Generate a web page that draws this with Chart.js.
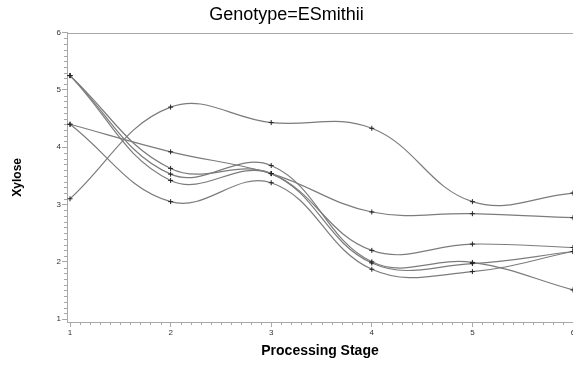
<!DOCTYPE html>
<html lang="en">
<head>
  <meta charset="UTF-8">
  <title>Genotype=ESmithii</title>
  <script src="https://cdn.jsdelivr.net/npm/chart.js"></script>
  <style>
    body {
      margin: 0;
      background: #fff;
    }
    canvas {
      display: block;
    }
  </style>
</head>
<body>
  <canvas id="xyloseChart" width="573" height="365"></canvas>

  <script>
    // processing stages on the x axis
    const stages = [1, 2, 3, 4, 5, 6];

    // xylose per plant
    const plant1 = [3.10, 4.70, 4.43, 4.33, 3.05, 3.20];
    const plant2 = [4.40, 3.92, 3.54, 2.87, 2.84, 2.77];
    const plant3 = [4.40, 3.05, 3.38, 1.87, 1.83, 2.18];
    const plant4 = [5.25, 3.63, 3.54, 2.20, 2.31, 2.25];
    const plant5 = [5.25, 3.53, 3.68, 2.00, 1.99, 1.51];
    const plant6 = [5.25, 3.42, 3.54, 1.98, 1.97, 2.18];

    const xTicks = [1, 2, 3, 4, 5, 6];
    const yTicks = [1, 2, 3, 4, 5, 6];

    const allPlants = [plant1, plant2, plant3, plant4, plant5, plant6];

    const axisGrey = '#a8a8a8';

    // small ticks every 0.1 plus a frame line along the top
    const minorTicks = {
      id: 'minorTicks',
      afterDraw(chart) {
        const ctx = chart.ctx;
        const xs = chart.scales.x;
        const ys = chart.scales.y;
        const area = chart.chartArea;
        ctx.save();
        ctx.strokeStyle = axisGrey;
        ctx.lineWidth = 1;
        ctx.beginPath();
        for (let i = 10; i <= 60; i++) {
          if (i % 10 === 0) continue;
          const px = Math.round(xs.getPixelForValue(i / 10)) + 0.5;
          ctx.moveTo(px, area.bottom);
          ctx.lineTo(px, area.bottom + 3);
          const py = Math.round(ys.getPixelForValue(i / 10)) + 0.5;
          ctx.moveTo(area.left, py);
          ctx.lineTo(area.left - 3, py);
        }
        ctx.moveTo(area.left, Math.round(area.top) + 0.5);
        ctx.lineTo(area.right, Math.round(area.top) + 0.5);
        ctx.stroke();
        ctx.restore();
      }
    };

    const ctx = document.getElementById('xyloseChart').getContext('2d');
    const chart = new Chart(ctx, {
      type: 'line',
      data: {
        datasets: allPlants.map((vals, i) => ({
          label: 'Plant ' + (i + 1),
          data: stages.map((s, j) => ({ x: s, y: vals[j] })),
          borderColor: '#7c7c7c',
          borderWidth: 1.2,
          tension: 0.4,
          fill: false,
          pointStyle: 'cross',
          pointRadius: 2.5,
          pointBorderColor: '#222',
          pointBorderWidth: 1
        }))
      },
      options: {
        responsive: false,
        animation: false,
        layout: { padding: 0, autoPadding: false },
        plugins: {
          legend: { display: false },
          tooltip: { enabled: false },
          title: {
            display: true,
            text: 'Genotype=ESmithii',
            color: '#000',
            font: { family: 'Liberation Sans, Arial', size: 18, weight: 'normal' },
            padding: { top: 4, bottom: 7 }
          }
        },
        scales: {
          x: {
            type: 'linear',
            min: 0.97,
            max: 6,
            afterBuildTicks: s => { s.ticks = xTicks.map(v => ({ value: v })); },
            afterFit: s => { s.height = 43; s.paddingLeft = 0; s.paddingRight = 0; },
            border: { display: true, color: axisGrey },
            grid: { display: true, drawOnChartArea: false, tickLength: 5, color: axisGrey },
            ticks: {
              padding: 1,
              color: '#333',
              font: { family: 'Liberation Sans, Arial', size: 8 }
            },
            title: {
              display: true,
              text: 'Processing Stage',
              color: '#000',
              font: { family: 'Liberation Sans, Arial', size: 14, weight: 'bold' },
              padding: { top: 0, bottom: 5 }
            }
          },
          y: {
            type: 'linear',
            min: 0.95,
            max: 6,
            afterBuildTicks: s => { s.ticks = yTicks.map(v => ({ value: v })); },
            afterFit: s => { s.width = 67; },
            border: { display: true, color: axisGrey },
            grid: { display: true, drawOnChartArea: false, tickLength: 5, color: axisGrey },
            ticks: {
              padding: 1,
              color: '#333',
              font: { family: 'Liberation Sans, Arial', size: 8 }
            },
            title: {
              display: true,
              text: 'Xylose',
              color: '#000',
              font: { family: 'Liberation Sans, Arial', size: 12, weight: 'bold' },
              padding: { top: 10, bottom: 0 }
            }
          }
        }
      },
      plugins: [minorTicks]
    });
  </script>
</body>
</html>
